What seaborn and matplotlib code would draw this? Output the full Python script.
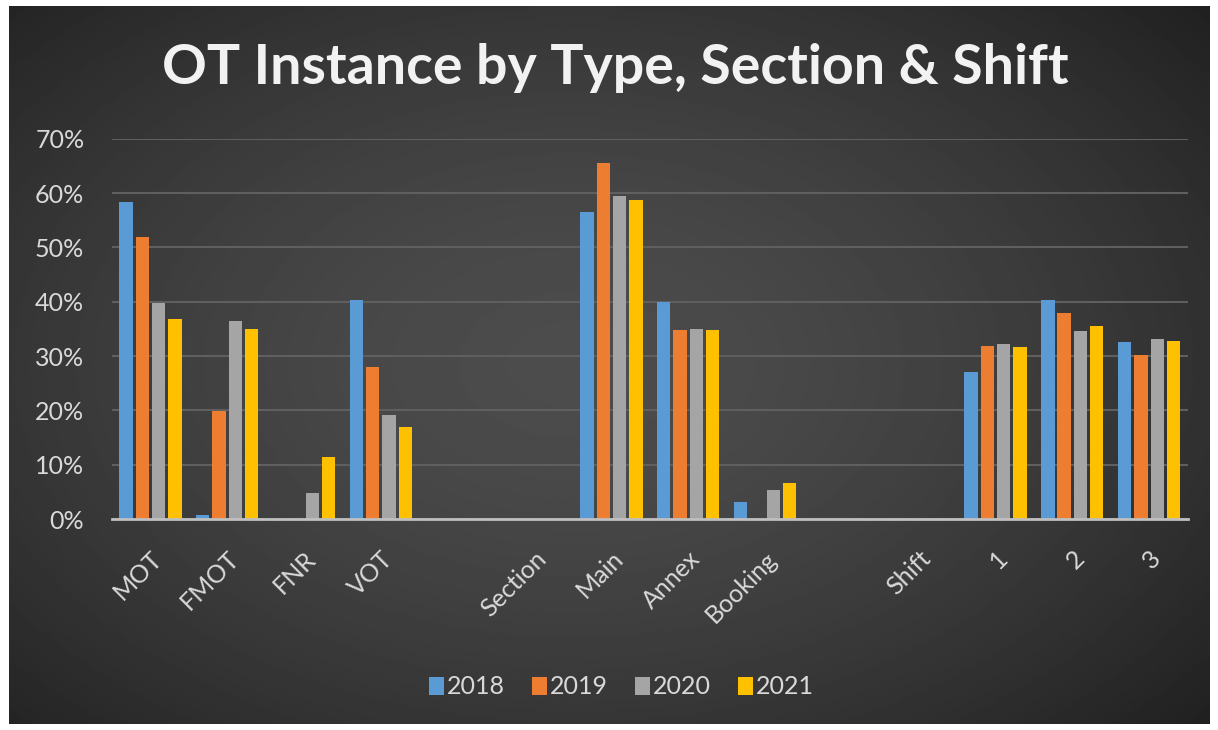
import numpy as np
import pandas as pd
import matplotlib.pyplot as plt
import seaborn as sns
from matplotlib.patches import Patch

# categories along the x axis (blank slots are spacer columns)
categories = ['MOT', 'FMOT', 'FNR', 'VOT', ' ', 'Section', 'Main', 'Annex', 'Booking',
              '  ', 'Shift', '1', '2', '3']
years = ['2018', '2019', '2020', '2021']
v2018 = [58.4, 0.7, 0.0, 40.3, 0, 0, 56.6, 40.0, 3.2, 0, 0, 27.0, 40.3, 32.5]
v2019 = [51.9, 19.8, 0.0, 28.0, 0, 0, 65.5, 34.7, 0.0, 0, 0, 31.9, 38.0, 30.1]
v2020 = [39.7, 36.4, 4.7, 19.2, 0, 0, 59.4, 34.9, 5.3, 0, 0, 32.2, 34.6, 33.1]
v2021 = [36.8, 34.9, 11.4, 16.9, 0, 0, 58.7, 34.7, 6.6, 0, 0, 31.6, 35.5, 32.8]
colors = ['#5B9BD5', '#ED7D31', '#A5A5A5', '#FFC000']

rows = []
for yr, vals in zip(years, [v2018, v2019, v2020, v2021]):
    for c, v in zip(categories, vals):
        rows.append({'Category': c, 'Year': yr, 'Value': v / 100})
df = pd.DataFrame(rows)

sns.set_style('white')
plt.rcParams['font.family'] = ['Lato', 'DejaVu Sans']

fig = plt.figure(figsize=(12.18, 7.30), dpi=100, facecolor='white')

# dark radial gradient background
bg = fig.add_axes([0.007, 0.008, 0.986, 0.984], zorder=-10)
yy, xx = np.mgrid[0:1:300j, 0:1:500j]
r = np.sqrt(((xx - 0.47) / 0.75) ** 2 + ((yy - 0.5) / 0.8) ** 2)
shade = np.clip(0.30 - 0.19 * r ** 1.6, 0.1, 0.32)
bg.imshow(shade, cmap='gray', vmin=0, vmax=1, aspect='auto', extent=[0, 1, 0, 1])
bg.set_axis_off()

ax = fig.add_axes([0.092, 0.289, 0.883, 0.521])
ax.patch.set_alpha(0)
sns.barplot(data=df, x='Category', y='Value', hue='Year', palette=colors, saturation=1,
            width=0.85, gap=0.18, linewidth=0, ax=ax, legend=False, errorbar=None)

ax.set_ylim(0, 0.7)
ax.set_xlim(-0.5, len(categories) - 0.5)
ax.set_yticks(np.arange(0, 0.71, 0.1))
ax.set_yticklabels([f'{int(round(t * 100))}%' for t in np.arange(0, 0.71, 0.1)])
ax.yaxis.grid(True, color='#5f5f5f', linewidth=1.5)
ax.set_axisbelow(True)
for s in ['top', 'right', 'left']:
    ax.spines[s].set_visible(False)
ax.spines['bottom'].set_color('#bfbfbf')
ax.spines['bottom'].set_linewidth(2)
ax.set_xlabel('')
ax.set_ylabel('')
ax.tick_params(axis='y', length=0, pad=20, labelsize=18, labelcolor='#d9d9d9')
ax.tick_params(axis='x', length=0, pad=20, labelsize=18, labelcolor='#d9d9d9')
for lbl in ax.get_xticklabels():
    lbl.set_rotation(45)
    lbl.set_ha('right')
    lbl.set_va('top')
    lbl.set_rotation_mode('anchor')

fig.text(0.505, 0.907, 'OT Instance by Type, Section & Shift', ha='center', va='center',
         fontsize=40, fontweight='bold', color='#f2f2f2')

handles = [Patch(facecolor=c, edgecolor='none') for c in colors]
fig.legend(handles, years, loc='center', bbox_to_anchor=(0.51, 0.059), ncol=4,
           frameon=False, fontsize=18, labelcolor='#d9d9d9', handlelength=0.6,
           handleheight=0.75, handletextpad=0.1, columnspacing=1.1)

fig.savefig('out.png', dpi=100, facecolor='white')
